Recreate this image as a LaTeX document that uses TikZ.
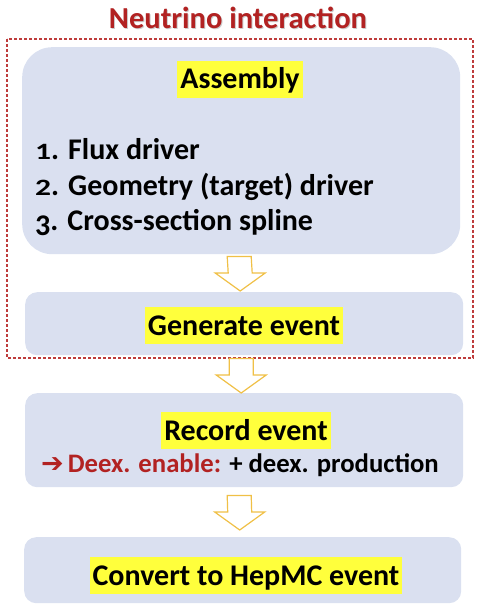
\documentclass[tikz,border=0pt]{standalone}
\usepackage{fontspec}
\usepackage{graphicx}
\setmainfont{Carlito}[BoldFont={* Bold}]
\newfontfamily\symfont{DejaVu Sans}
\usetikzlibrary{calc}
\definecolor{boxfill}{RGB}{218,224,240}
\definecolor{titlered}{RGB}{178,34,34}
\definecolor{dashred}{RGB}{190,60,60}
\definecolor{hlyellow}{RGB}{255,255,60}
\definecolor{arrowgold}{RGB}{240,192,70}
\newcommand\osfdigit[1]{\scalebox{1.05}[0.78]{#1}}
\newcommand\osfdesc[1]{\raisebox{-0.18em}{#1}}
\tikzset{
  every node/.style={font=\bfseries},
  boxbig/.style={fill=boxfill, draw=none, rounded corners=30pt, inner sep=0pt},
  boxsmall/.style={fill=boxfill, draw=none, rounded corners=12pt, inner sep=0pt},
  hltext/.style={fill=hlyellow, inner xsep=3pt, inner ysep=0pt, text height=28pt, text depth=9pt, anchor=base, font=\fontsize{30}{36}\selectfont\bfseries},
  listtext/.style={anchor=base west, inner sep=0pt, font=\fontsize{30}{36}\selectfont\bfseries},
  arrowline/.style={draw=arrowgold, line width=1.2pt, fill=white, line join=miter},
  frame/.style={draw=dashred, dashed, dash pattern=on 3pt off 2pt, line width=1.1pt}
}
\newcommand\hollowarrow[2]{%
  \draw[arrowline] ($(#1)+(-12,0)$) -- ($(#1)+(12,0)$) -- ($(#2)+(12,-18)$) -- ($(#2)+(25,-18)$) -- (#2) -- ($(#2)+(-25,-18)$) -- ($(#2)+(-12,-18)$) -- cycle;}
\begin{document}
\begin{tikzpicture}[x=1pt,y=-1pt]
\useasboundingbox (0,0) rectangle (476,604);
% boxes
\node[boxbig, minimum width=438pt, minimum height=207pt, anchor=north west] (asm) at (22,47) {};
\node[boxsmall, minimum width=438pt, minimum height=63pt, anchor=north west] (gen) at (25,292) {};
\node[boxsmall, minimum width=438pt, minimum height=94pt, anchor=north west] (rec) at (25,393) {};
\node[boxsmall, minimum width=437pt, minimum height=66pt, anchor=north west] (conv) at (24,537) {};
% frame
\draw[frame] (7,39) rectangle (473,358);
% title
\node[anchor=base, text=black!40, opacity=0.5, font=\fontsize{30.5}{36}\selectfont\bfseries] (titleshadow) at (239,30) {Neutrino interaction};
\node[anchor=base, text=titlered, font=\fontsize{30.5}{36}\selectfont\bfseries] (title) at (238,29) {Neutrino interaction};
% texts
\node[hltext] (asmt) at (240,89) {Assembly};
\node[listtext] (l1) at (35,160) {\osfdigit{1}. Flux driver};
\node[listtext] (l2) at (35,195) {\osfdigit{2}. Geometry (target) driver};
\node[listtext] (l3) at (35,230) {\osfdesc{3}. Cross-section spline};
\node[hltext] (gent) at (244,335) {Generate event};
\node[hltext] (rect) at (246,440) {Record event};
\node[anchor=base west, inner sep=0pt, font=\fontsize{26.7}{30}\selectfont\bfseries] (deex) at (41,472) {\textcolor{titlered}{{\symfont\fontsize{27}{30}\selectfont ➔}\hspace{4pt}Deex. enable:} + deex. production};
\node[hltext] (convt) at (246,585) {Convert to HepMC event};
% arrows
\coordinate (a1s) at ($(asm.south)+(-2,2)$);
\coordinate (a1e) at ($(gen.north)+(-4,-1)$);
\coordinate (a2s) at ($(gen.south)+(-3,3)$);
\coordinate (a2e) at ($(rec.north)+(-3,0)$);
\coordinate (a3s) at ($(rec.south)+(-5,8)$);
\coordinate (a3e) at ($(conv.north)+(-3,-7)$);
\hollowarrow{a1s}{a1e}
\hollowarrow{a2s}{a2e}
\hollowarrow{a3s}{a3e}
\end{tikzpicture}
\end{document}
